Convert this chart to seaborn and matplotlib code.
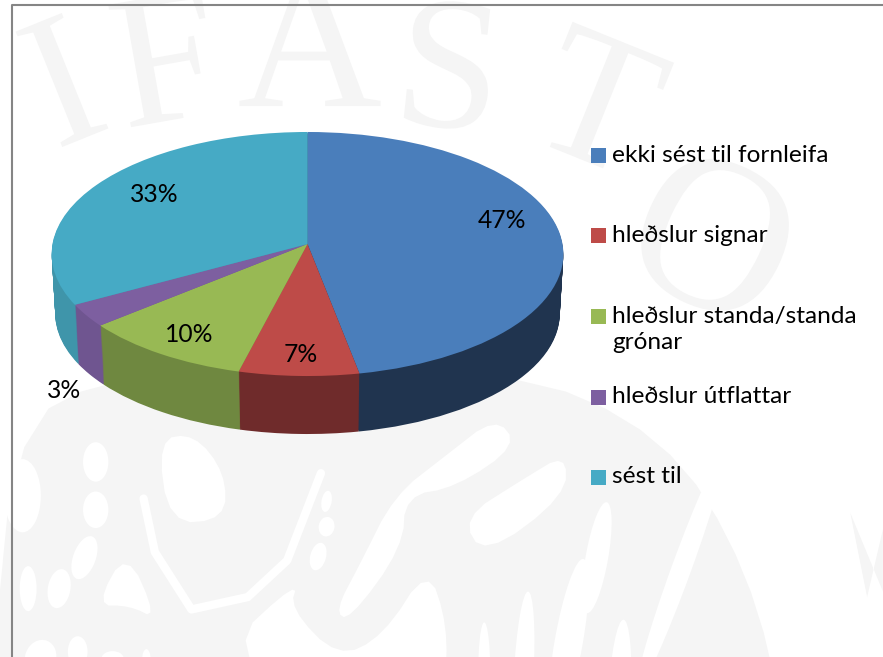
import numpy as np
import matplotlib
matplotlib.use("Agg")
import matplotlib.pyplot as plt
from matplotlib.transforms import Transform, Affine2D
from matplotlib.patches import Rectangle, PathPatch, Polygon, Ellipse
from matplotlib.textpath import TextPath
from matplotlib.font_manager import FontProperties
import seaborn as sns

categories = ["ekki sést til fornleifa", "hleðslur signar",
              "hleðslur standa/standa\ngrónar", "hleðslur útflattar", "sést til"]
shares = [47, 7, 10, 3, 33]
top_colors = ["#4a7ebb", "#be4b48", "#98b954", "#7d5fa0", "#46aac5"]
side_colors = ["#20344f", "#6f2b2b", "#6f8840", "#6f5590", "#3f95aa"]

sns.set_theme(style="white")
plt.rcParams["font.family"] = ["Lato", "DejaVu Sans"]


class Perspective(Transform):
    """Maps the unit pie disc to pixel positions of a tilted 3D disc."""
    input_dims = 2
    output_dims = 2
    is_separable = False
    has_inverse = False

    def __init__(self, drop=0.0):
        super().__init__()
        self.drop = drop

    def transform_non_affine(self, values):
        v = np.asarray(values, dtype=float)
        w = 1 + 0.082 * v[:, 1]
        return np.column_stack((307.5 + 255.0 * v[:, 0] / w,
                                244.0 - 121.2 * v[:, 1] / w + self.drop))


def chaikin(points, rounds=3):
    p = np.asarray(points, dtype=float)
    for _ in range(rounds):
        q = np.roll(p, -1, axis=0)
        p = np.column_stack((0.75 * p + 0.25 * q, 0.25 * p + 0.75 * q)).reshape(-1, 2)
    return p


fig = plt.figure(figsize=(8.83, 6.57), dpi=100, facecolor="white")
ax = fig.add_axes([0, 0, 1, 1])

# Side wall: stacked pies, going from the bottom rim up to the top face
depth = 60
for d in range(depth, 0, -1):
    r = 1 - 0.014 * d / depth
    wedges, _ = ax.pie(shares, colors=side_colors, radius=r, startangle=90,
                       counterclock=False, wedgeprops={"linewidth": 0, "zorder": 3})
    for w in wedges:
        w.set_transform(Perspective(d) + ax.transData)

wedges, _ = ax.pie(shares, colors=top_colors, startangle=90, counterclock=False,
                   wedgeprops={"linewidth": 0, "zorder": 4})
for w in wedges:
    w.set_transform(Perspective(0) + ax.transData)

ax.set_aspect("auto")
ax.set_xlim(0, 883)
ax.set_ylim(657, 0)
ax.set_frame_on(False)

# Faint background artwork behind the chart (letters and ornament, as shapes)
mark = "#f5f5f5"
serif = FontProperties(family="Liberation Serif")
for ch, x, y, rot, size in [("I", 62, 80, 22, 190), ("F", 165, 58, 10, 190),
                            ("A", 310, 40, 0, 200), ("S", 450, 65, -6, 190),
                            ("T", 600, 100, -22, 190), ("O", 715, 235, -25, 220)]:
    tp = TextPath((0, 0), ch, size=size, prop=serif)
    bb = tp.get_extents()
    tr = (Affine2D().translate(-(bb.x0 + bb.x1) / 2, -(bb.y0 + bb.y1) / 2)
          .scale(1, -1).rotate_deg(-rot).translate(x, y))
    ax.add_patch(PathPatch(tr.transform_path(tp), facecolor=mark, edgecolor="none", zorder=0))


def art(pts):
    """Crop coordinates of the lower ornament to picture pixels."""
    a = np.asarray(pts, dtype=float) / 1.776
    a[:, 1] += 400
    return a


base = art([(0, 60), (230, -60), (900, -60), (1180, 60), (1330, 300), (1400, 600),
            (1440, 800), (0, 800)])
ax.add_patch(Polygon(chaikin(base, 2), closed=True, facecolor=mark, edgecolor="none", zorder=0))
ax.add_patch(Polygon(art([(1510, 200), (1568, 340), (1568, 230), (1540, 350)]), closed=True,
                     facecolor=mark, edgecolor="none", zorder=0))

white_shapes = [
    [(400, 440), (530, 320), (515, 370), (600, 458), (680, 420), (760, 295), (795, 400),
     (790, 520), (700, 610), (590, 590)],
    [(595, 375), (620, 392), (715, 262), (720, 170), (810, 155), (920, 80), (880, 30),
     (790, 100), (700, 170), (640, 290)],
    [(820, 210), (860, 278), (1005, 170), (1005, 95), (930, 140)],
    [(20, 570), (100, 540), (280, 580), (290, 700), (300, 790), (120, 790), (20, 660)],
    [(280, 70), (300, 220), (400, 212), (400, 130), (345, 60)],
    [(170, 365), (225, 265), (280, 390), (230, 365)],
]
for sh in white_shapes:
    ax.add_patch(Polygon(chaikin(art(sh), 2), closed=True, facecolor="white",
                         edgecolor="none", zorder=0.5))

ribbon = art([(255, 175), (275, 270), (340, 372), (440, 350), (510, 285), (570, 130)])
ax.plot(ribbon[:, 0], ribbon[:, 1], color="white", lw=6, solid_capstyle="round", zorder=0.5)

white_blobs = [
    (40, 170, 65, 130, 0), (170, 110, 45, 70, 0), (170, 195, 45, 65, 0), (150, 280, 40, 80, -20),
    (50, 335, 30, 80, 0), (105, 335, 40, 70, -10), (72, 458, 55, 65, -20), (138, 447, 35, 55, 0),
    (200, 460, 40, 28, 0), (260, 460, 15, 35, 0), (318, 470, 28, 25, 0), (372, 493, 20, 28, 0),
    (430, 525, 20, 30, -20), (480, 580, 35, 40, -20), (527, 605, 18, 45, -15), (580, 650, 18, 55, -15),
    (630, 672, 30, 35, -20), (580, 180, 18, 38, -10), (580, 225, 28, 35, -10), (565, 278, 28, 50, -15),
    (860, 490, 22, 190, 0), (930, 490, 35, 300, -3), (1010, 430, 50, 300, -10), (1100, 530, 40, 280, -3),
    (1210, 300, 35, 450, -20), (1060, 280, 40, 200, -10), (348, 660, 40, 210, 0), (450, 700, 60, 170, 0),
    (522, 740, 25, 70, 0), (945, 730, 30, 130, -40),
]
for cx, cy, w, h, rot in white_blobs:
    px = art([(cx, cy)])[0]
    ax.add_patch(Ellipse(px, w / 1.776, h / 1.776, angle=-rot, facecolor="white",
                         edgecolor="none", zorder=0.5))

# Frame lines
ax.plot([11.5, 11.5, 883], [657, 4.5, 4.5], color="#858585", lw=1.5, zorder=1)

# Data labels
label_xy = [(502, 221), (301, 355), (189, 335), (64, 390), (154, 194)]
for s, (x, y) in zip(shares, label_xy):
    ax.text(x, y, f"{s}%", fontsize=17.7, color="black", ha="center", va="center", zorder=6)

# Legend
legend_y = [155.5, 235.5, 316.5, 397, 477]
for name, col, y in zip(categories, top_colors, legend_y):
    ax.add_patch(Rectangle((591, y - 7.5), 15, 15, facecolor=col, edgecolor="none", zorder=5))
    ax.text(612, y - 11, name, fontsize=17.6, color="black", ha="left", va="top",
            linespacing=1.3, zorder=6)

fig.savefig("out.png", dpi=100)
